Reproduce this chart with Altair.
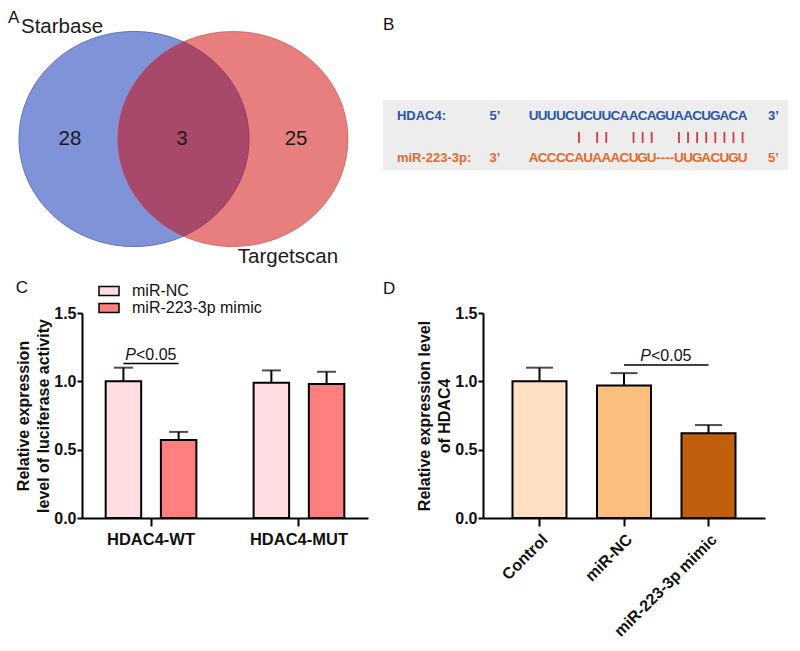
import altair as alt
import pandas as pd

# ---------------- data ----------------
venn_sets = ["Starbase", "Targetscan"]
venn_only_counts = [28, 25]
venn_shared_count = 3

hdac4_label = "HDAC4:"
mir_label = "miR-223-3p:"
hdac4_seq = "UUUUCUCUUCAACAGUAACUGACA"
mir_part1 = "ACCCCAUAAACUGU"
mir_gap = "----"
mir_seed = "UUGACUGU"
pair_positions = [5, 7, 8, 11, 12, 13, 16, 17, 18, 19, 20, 21, 22, 23]

luc_groups = ["HDAC4-WT", "HDAC4-MUT"]
luc_treatments = ["miR-NC", "miR-223-3p mimic"]
luc_group_col = ["HDAC4-WT", "HDAC4-WT", "HDAC4-MUT", "HDAC4-MUT"]
luc_treat_col = ["miR-NC", "miR-223-3p mimic", "miR-NC", "miR-223-3p mimic"]
luc_means = [1.00, 0.57, 0.99, 0.98]
luc_upper = [1.10, 0.63, 1.08, 1.07]
luc_sig_level = 1.13

hdac_groups = ["Control", "miR-NC", "miR-223-3p mimic"]
hdac_means = [1.00, 0.97, 0.62]
hdac_upper = [1.10, 1.06, 0.68]
hdac_sig_level = 1.12

FONT = "Liberation Sans"

# ---------------- layout (pixels) ----------------
P = 82          # left edge of the plot areas of panels A and C (page px, incl. 8px margin)
WA = 383 - 5 - P
R = 115.0       # venn radius in px

# ---------------- panel A : Venn ----------------
ELLIPSE = "M-1,0A1,0.935,0,1,1,1,0A1,0.935,0,1,1,-1,0Z"
venn_df = pd.DataFrame({"set": venn_sets, "cx": [0.0, 0.86], "cy": [0.0, 0.0]})
venn_text = pd.DataFrame({
    "label": [str(venn_only_counts[0]), str(venn_shared_count), str(venn_only_counts[1]),
              venn_sets[0], venn_sets[1]],
    "u": [-0.557, 0.417, 1.409, -0.626, 1.339],
    "v": [0.0, 0.0, 0.0, -0.974, 1.026],
})
ax_a = alt.Scale(domain=[(P - 134) / R, (P + WA - 134) / R], nice=False, zero=False)
ay_a = alt.Scale(domain=[-1.0, 1.174], nice=False, zero=False, reverse=True)

blue = alt.Chart(venn_df).transform_filter(alt.datum.set == venn_sets[0]).mark_point(
    shape=ELLIPSE, size=(2 * R) ** 2, filled=True, fill="#8093D8", opacity=1,
    stroke="#5D72C4", strokeWidth=1, clip=False
).encode(x=alt.X("cx:Q", scale=ax_a, axis=None), y=alt.Y("cy:Q", scale=ay_a, axis=None))
red = alt.Chart(venn_df).transform_filter(alt.datum.set == venn_sets[1]).mark_point(
    shape=ELLIPSE, size=(2 * R) ** 2, filled=True, fill="#D00000", fillOpacity=0.5,
    stroke="#C83C3C", strokeOpacity=0.6, strokeWidth=1, clip=False
).encode(x=alt.X("cx:Q", scale=ax_a, axis=None), y=alt.Y("cy:Q", scale=ay_a, axis=None))
vtext = alt.Chart(venn_text).mark_text(font=FONT, fontSize=20.5, color="#1a1a1a").encode(
    x=alt.X("u:Q", scale=ax_a, axis=None), y=alt.Y("v:Q", scale=ay_a, axis=None), text="label:N")

panel_a = alt.layer(blue, red, vtext).properties(
    width=WA, height=250,
    title=alt.TitleParams("A", anchor="start", frame="group", fontSize=17, fontWeight="normal",
                          font=FONT, color="#111", offset=0, dx=-(P - 8), dy=10))

# ---------------- panel B : sequence alignment ----------------
chars = []
for i, ch in enumerate(hdac4_seq):
    chars.append({"i": i, "row": 0, "t": ch})
for i, ch in enumerate(mir_part1):
    chars.append({"i": i, "row": 1, "t": ch})
gap_center = len(mir_part1) + 0.5
chars.append({"i": gap_center, "row": 1, "t": mir_gap})
seed_start = len(mir_part1) + 2
for k, ch in enumerate(mir_seed):
    chars.append({"i": seed_start + k, "row": 1, "t": ch})
chars_df = pd.DataFrame(chars)

labels_df = pd.DataFrame({"i": [-15.04, -15.04], "row": [0, 1], "t": [hdac4_label, mir_label]})
ends_df = pd.DataFrame({"i": [-4.24, -4.24, 26.4, 26.4], "row": [0, 1, 0, 1],
                        "t": ["5’", "3’", "3’", "5’"]})
pairs_df = pd.DataFrame({"i": pair_positions, "r1": 0.38, "r2": 0.64})
box_df = pd.DataFrame({"x1": [-16.57], "x2": [28.0], "y1": [-0.38], "y2": [1.29]})

bx = alt.Scale(domain=[-16.57, 28.0], nice=False, zero=False)
by = alt.Scale(domain=[-2.19, 3.76], nice=False, zero=False, reverse=True)
row_color = alt.Color("row:N", scale=alt.Scale(domain=[0, 1], range=["#2A56A6", "#E4692A"]), legend=None)

box = alt.Chart(box_df).mark_rect(color="#EDEDED").encode(
    x=alt.X("x1:Q", scale=bx, axis=None), x2="x2:Q",
    y=alt.Y("y1:Q", scale=by, axis=None), y2="y2:Q")
seq_text = alt.Chart(chars_df).mark_text(font=FONT, fontSize=13.5, fontWeight="bold").encode(
    x=alt.X("i:Q", scale=bx, axis=None), y=alt.Y("row:Q", scale=by, axis=None),
    text="t:N", color=row_color)
lab_text = alt.Chart(labels_df).mark_text(font=FONT, fontSize=13, fontWeight="bold", align="left").encode(
    x=alt.X("i:Q", scale=bx, axis=None), y=alt.Y("row:Q", scale=by, axis=None),
    text="t:N", color=row_color)
end_text = alt.Chart(ends_df).mark_text(font=FONT, fontSize=13, fontWeight="bold").encode(
    x=alt.X("i:Q", scale=bx, axis=None), y=alt.Y("row:Q", scale=by, axis=None),
    text="t:N", color=row_color)
pair_rules = alt.Chart(pairs_df).mark_rule(color="#D33A3F", strokeWidth=1.8).encode(
    x=alt.X("i:Q", scale=bx, axis=None), y=alt.Y("r1:Q", scale=by, axis=None), y2="r2:Q")

panel_b = alt.layer(box, seq_text, lab_text, end_text, pair_rules).properties(
    width=405, height=250,
    title=alt.TitleParams("B", anchor="start", frame="group", fontSize=17, fontWeight="normal",
                          font=FONT, color="#111", offset=0, dy=10))

# ---------------- shared axis style ----------------
def y_axis(title):
    return alt.Axis(values=[0, 0.5, 1.0, 1.5], format=".1f", title=title, grid=False,
                    domainColor="black", domainWidth=2, tickColor="black", tickWidth=2, tickSize=5,
                    labelFont=FONT, labelFontSize=16, labelFontWeight="bold", labelColor="#111",
                    labelPadding=1, titleFont=FONT, titleFontSize=16, titleFontWeight="bold",
                    titleColor="#111", titlePadding=2, titleLineHeight=20)

y_scale = alt.Scale(domain=[0, 1.5], nice=False)

# ---------------- panel C : luciferase ----------------
luc_df = pd.DataFrame({"group": luc_group_col, "treatment": luc_treat_col,
                       "mean": luc_means, "upper": luc_upper})
sig_c = pd.DataFrame({"group": [luc_groups[0]] * 2, "treatment": luc_treatments,
                      "y": [luc_sig_level] * 2})
sig_c_txt = pd.DataFrame({"group": [luc_groups[0]], "y": [luc_sig_level]})

cx = alt.X("group:N", sort=luc_groups, scale=alt.Scale(paddingInner=0.387, paddingOuter=0.16),
           axis=alt.Axis(title=None, labelAngle=0, domainColor="black", domainWidth=2,
                         tickColor="black", tickWidth=2, tickSize=8, labelFont=FONT,
                         labelFontSize=16.5, labelFontWeight="bold", labelColor="#111",
                         labelPadding=5))
cxo = alt.XOffset("treatment:N", sort=luc_treatments, scale=alt.Scale(paddingInner=0.357, paddingOuter=0))
RECT = "M-1.25,-0.56H1.25V0.56H-1.25Z"
c_bars = alt.Chart(luc_df).mark_bar(stroke="black", strokeWidth=2).encode(
    x=cx, xOffset=cxo,
    y=alt.Y("mean:Q", scale=y_scale, axis=y_axis(["Relative expression", "level of luciferase activity"])),
    fill=alt.Fill("treatment:N", sort=luc_treatments,
                  scale=alt.Scale(domain=luc_treatments, range=["#FFDDE1", "#FF7E7E"]),
                  legend=alt.Legend(title=None, orient="none", legendX=18, legendY=-31,
                                    symbolType=RECT, symbolSize=256, symbolStrokeColor="black",
                                    symbolStrokeWidth=1.5, labelFont=FONT, labelFontSize=16,
                                    labelColor="#111", labelOffset=14, rowPadding=0, padding=0)))
c_err = alt.Chart(luc_df).mark_rule(color="black", strokeWidth=2).encode(
    x=cx, xOffset=cxo, y="mean:Q", y2="upper:Q")
c_cap = alt.Chart(luc_df).mark_tick(color="black", thickness=2, size=19, orient="horizontal").encode(
    x=cx, xOffset=cxo, y="upper:Q")
c_line = alt.Chart(sig_c).mark_line(color="black", strokeWidth=1.5).encode(
    x=cx, xOffset=cxo, y="y:Q")
c_p = alt.Chart(sig_c_txt).mark_text(text="P", font=FONT, fontSize=16, fontStyle="italic",
                                     align="right", dx=-15, dy=-4, baseline="alphabetic",
                                     color="#111").encode(x=cx, y="y:Q")
c_rest = alt.Chart(sig_c_txt).mark_text(text="<0.05", font=FONT, fontSize=16, align="left",
                                        dx=-15, dy=-4, baseline="alphabetic",
                                        color="#111").encode(x=cx, y="y:Q")
panel_c = alt.layer(c_bars, c_err, c_cap, c_line, c_p, c_rest).properties(
    width=286, height=205,
    title=alt.TitleParams("C", anchor="start", frame="bounds", fontSize=17, fontWeight="normal",
                          font=FONT, color="#111", offset=0, dy=15))

# ---------------- panel D : HDAC4 expression ----------------
hdac_df = pd.DataFrame({"group": hdac_groups, "mean": hdac_means, "upper": hdac_upper})
sig_d = pd.DataFrame({"group": hdac_groups[1:], "y": [hdac_sig_level] * 2})
sig_d_txt = pd.DataFrame({"group": [hdac_groups[1]], "y": [hdac_sig_level]})

dx_enc = alt.X("group:N", sort=hdac_groups, scale=alt.Scale(paddingInner=0.361, paddingOuter=0.349),
               axis=alt.Axis(title=None, labelAngle=-45, domainColor="black", domainWidth=2,
                             tickColor="black", tickWidth=2, tickSize=8, labelFont=FONT,
                             labelFontSize=16, labelFontWeight="bold", labelColor="#111",
                             labelPadding=5))
d_bars = alt.Chart(hdac_df).mark_bar(stroke="black", strokeWidth=2).encode(
    x=dx_enc,
    y=alt.Y("mean:Q", scale=y_scale, axis=y_axis(["Relative expression level", "of HDAC4"])),
    fill=alt.Fill("group:N", sort=hdac_groups,
                  scale=alt.Scale(domain=hdac_groups, range=["#FFE0C2", "#FDBE80", "#C05F0C"]),
                  legend=None))
d_err = alt.Chart(hdac_df).mark_rule(color="black", strokeWidth=2).encode(
    x=dx_enc, y="mean:Q", y2="upper:Q")
d_cap = alt.Chart(hdac_df).mark_tick(color="black", thickness=2, size=27, orient="horizontal").encode(
    x=dx_enc, y="upper:Q")
d_line = alt.Chart(sig_d).mark_line(color="black", strokeWidth=1.5).encode(x=dx_enc, y="y:Q")
d_p = alt.Chart(sig_d_txt).mark_text(text="P", font=FONT, fontSize=16, fontStyle="italic",
                                     align="right", dx=27, dy=-4, baseline="alphabetic",
                                     color="#111").encode(x=dx_enc, y="y:Q")
d_rest = alt.Chart(sig_d_txt).mark_text(text="<0.05", font=FONT, fontSize=16, align="left",
                                        dx=27, dy=-4, baseline="alphabetic",
                                        color="#111").encode(x=dx_enc, y="y:Q")
panel_d = alt.layer(d_bars, d_err, d_cap, d_line, d_p, d_rest).properties(
    width=282, height=205,
    title=alt.TitleParams("D", anchor="start", frame="group", fontSize=17, fontWeight="normal",
                          font=FONT, color="#111", offset=0, dx=-100, dy=-7))

top = alt.hconcat(panel_a, panel_b, spacing=5, bounds="flush").resolve_scale(
    color="independent", fill="independent")
bottom = alt.hconcat(panel_c, panel_d, spacing=115, bounds="flush").resolve_scale(
    color="independent", fill="independent")
chart = alt.vconcat(top, bottom, spacing=5).resolve_scale(
    color="independent", fill="independent"
).configure(font=FONT, padding=0, background="white").configure_view(stroke=None)

chart.save("out.html", embed_options={"renderer": "svg", "actions": False})
